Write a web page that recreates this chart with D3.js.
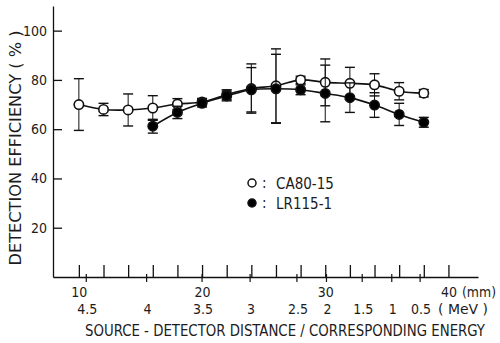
<!DOCTYPE html>
<html>
<head>
<meta charset="utf-8">
<script src="https://cdn.jsdelivr.net/npm/d3@7"></script>
<style>
  body { margin: 0; background: #fff; }
  svg { display: block; }
  text { font-family: "DejaVu Sans Condensed", "DejaVu Sans", sans-serif; fill: #1c1c1c; }
  .axis path, .axis line { stroke: #111; stroke-width: 1.3; }
</style>
</head>
<body>
<div id="chart"></div>
<script>
// Source-detector distance (mm) of each measurement
const distCA = [10, 12, 14, 16, 18, 20, 22, 24, 26, 28, 30, 32, 34, 36, 38];
const effCA = [70, 68, 67.8, 68.6, 70.2, 71, 74, 76.5, 77.6, 80, 79, 78.6, 78, 75.4, 74.6];
const errCA = [10.5, 2.5, 6.5, 5, 2.2, 1.5, 2, 10, 15, 1.5, 9.5, 6.5, 4.5, 3.5, 1.5];

const distLR = [16, 18, 20, 22, 24, 26, 28, 30, 32, 34, 36, 38];
const effLR = [61.2, 66.8, 70.5, 73.5, 76, 76.4, 76, 74.5, 72.8, 69.8, 66, 62.8];
const errLR = [2.8, 2.5, 1.5, 2, 9, 14, 2, 11.5, 6, 5, 4.5, 2];

// y axis ticks
const yTicks = [20, 40, 60, 80, 100];
// distance ticks, only some labelled
const distTicks = d3.range(10, 41, 2);
const distLabels = [10, 20, 30, 40];
// corresponding energy (MeV) and where it sits on the distance axis (mm)
const energyLabels = ['4.5', '4', '3.5', '3', '2.5', '2', '1.5', '1', '0.5'];
const energyDist = [10.6, 15.5, 20.0, 23.9, 27.7, 30.1, 33.0, 35.4, 37.7];

const width = 500;
const height = 343;

const svg = d3.select('#chart')
  .append('svg')
  .attr('width', width)
  .attr('height', height);

const x = d3.scaleLinear().domain([7.9, 42.4]).range([53, 478]);
const y = d3.scaleLinear().domain([0, 110]).range([277, 6]);

// y axis: ticks point inwards, labels on the left
const yAxis = svg.append('g')
  .attr('class', 'axis')
  .attr('transform', `translate(${x(7.9)},0)`)
  .call(d3.axisLeft(y).tickValues(yTicks).tickSize(-9).tickSizeOuter(0).tickPadding(6));
yAxis.selectAll('text').style('font-size', '14px');

// x axis: distance ticks point upwards
const xAxis = svg.append('g')
  .attr('class', 'axis')
  .attr('transform', `translate(0,${y(0)})`)
  .call(d3.axisBottom(x)
    .tickValues(distTicks)
    .tickSize(-12)
    .tickSizeOuter(0)
    .tickPadding(10)
    .tickFormat(d => distLabels.includes(d) ? d : ''));
xAxis.selectAll('text').style('font-size', '14px');

// small energy ticks crossing the axis
svg.append('g')
  .selectAll('line')
  .data(energyDist)
  .enter()
  .append('line')
  .attr('x1', d => x(d))
  .attr('x2', d => x(d))
  .attr('y1', y(0) - 3)
  .attr('y2', y(0) + 5)
  .attr('stroke', '#111')
  .attr('stroke-width', 1.2);

svg.append('g')
  .selectAll('text')
  .data(energyLabels)
  .enter()
  .append('text')
  .attr('x', (d, i) => x(energyDist[i]) + 1)
  .attr('y', 314)
  .attr('text-anchor', 'middle')
  .style('font-size', '14px')
  .text(d => d);

svg.append('text')
  .attr('x', 462).attr('y', 297)
  .attr('textLength', 34)
  .attr('lengthAdjust', 'spacingAndGlyphs')
  .style('font-size', '14px')
  .text('(mm)');
svg.append('text')
  .attr('x', 438).attr('y', 314)
  .attr('textLength', 50)
  .attr('lengthAdjust', 'spacingAndGlyphs')
  .style('font-size', '14px')
  .text('( MeV )');

// axis titles
svg.append('text')
  .attr('x', 85).attr('y', 336)
  .attr('textLength', 400)
  .attr('lengthAdjust', 'spacingAndGlyphs')
  .style('font-size', '15px')
  .text('SOURCE - DETECTOR DISTANCE  /  CORRESPONDING ENERGY');

svg.append('text')
  .attr('transform', 'translate(21,148) rotate(-90)')
  .attr('text-anchor', 'middle')
  .attr('textLength', 235)
  .attr('lengthAdjust', 'spacingAndGlyphs')
  .style('font-size', '15px')
  .text('DETECTION EFFICIENCY ( % )');

// series
const series = [
  { dist: distCA, eff: effCA, err: errCA, fill: '#fff' },
  { dist: distLR, eff: effLR, err: errLR, fill: '#000' },
];

const line = d3.line()
  .x(d => x(d[0]))
  .y(d => y(d[1]))
  .curve(d3.curveCatmullRom.alpha(0.5));

series.forEach(s => {
  const pts = s.dist.map((d, i) => [d, s.eff[i], s.err[i]]);
  const g = svg.append('g');

  // error bars
  const bars = g.selectAll('.err')
    .data(pts)
    .enter()
    .append('g');
  bars.append('line')
    .attr('x1', d => x(d[0])).attr('x2', d => x(d[0]))
    .attr('y1', d => y(d[1] + d[2])).attr('y2', d => y(d[1] - d[2]))
    .attr('stroke', '#111').attr('stroke-width', 1);
  [1, -1].forEach(sign => {
    bars.append('line')
      .attr('x1', d => x(d[0]) - 5).attr('x2', d => x(d[0]) + 5)
      .attr('y1', d => y(d[1] + sign * d[2])).attr('y2', d => y(d[1] + sign * d[2]))
      .attr('stroke', '#111').attr('stroke-width', 1.4);
  });

  g.append('path')
    .datum(pts)
    .attr('d', line)
    .attr('fill', 'none')
    .attr('stroke', '#111')
    .attr('stroke-width', 1.6);

  g.selectAll('circle')
    .data(pts)
    .enter()
    .append('circle')
    .attr('cx', d => x(d[0]))
    .attr('cy', d => y(d[1]))
    .attr('r', 4.7)
    .attr('fill', s.fill)
    .attr('stroke', '#111')
    .attr('stroke-width', 1.6);
});

// legend
const legend = svg.append('g');
[['CA80-15', '#fff'], ['LR115-1', '#000']].forEach((d, i) => {
  const ly = 183 + i * 20;
  legend.append('circle')
    .attr('cx', 252).attr('cy', ly).attr('r', 4)
    .attr('fill', d[1]).attr('stroke', '#111').attr('stroke-width', 1.5);
  legend.append('text')
    .attr('x', 262).attr('y', ly + 5)
    .style('font-size', '15px')
    .text(':');
  legend.append('text')
    .attr('x', 276).attr('y', ly + 6)
    .style('font-size', '15px')
    .text(d[0]);
});
</script>
</body>
</html>
